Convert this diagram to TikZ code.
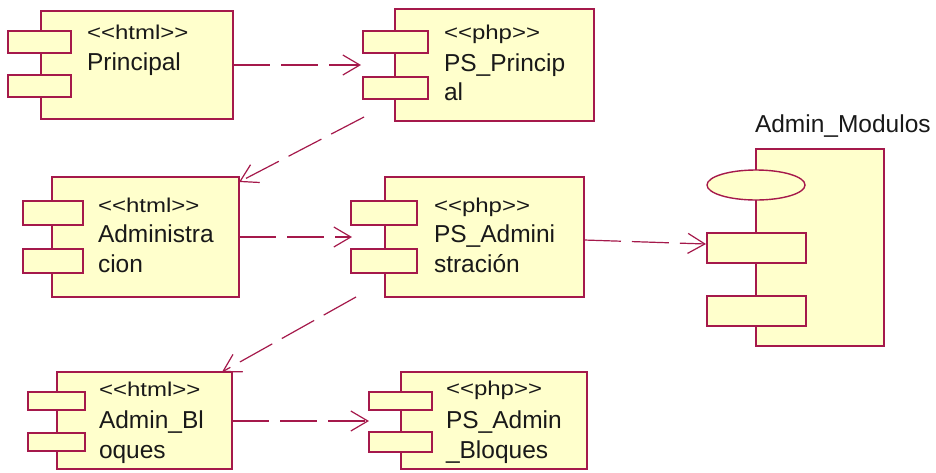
\documentclass[tikz,border=0pt]{standalone}
\usepackage{fontspec}
\setmainfont{Liberation Sans}
\newfontfamily\stereofont[FakeStretch=1.2]{Liberation Sans}
\usetikzlibrary{arrows.meta,shapes.geometric}
\definecolor{umlline}{RGB}{165,25,75}
\definecolor{umlfill}{RGB}{255,255,204}
\definecolor{umltext}{RGB}{25,25,25}
\tikzset{
 body/.style={draw=umlline, fill=umlfill, line width=1.4pt, rectangle, inner sep=0pt, outer sep=0pt},
 tabbox/.style={body},
 lobe/.style={draw=umlline, fill=umlfill, line width=1.4pt, ellipse, inner sep=0pt, outer sep=0pt},
 txt/.style={anchor=base west, inner sep=0pt, outer sep=0pt, font=\fontsize{24.5}{29}\selectfont, text=umltext},
 stxt/.style={anchor=base west, inner sep=0pt, outer sep=0pt, font=\stereofont\fontsize{20}{24}\selectfont, text=umltext},
 dep/.style={draw=umlline, line width=1.2pt, dash pattern=on 37pt off 11pt,
   -{Straight Barb[length=17pt,width=20pt,line width=1.2pt]}},
}
\begin{document}
\begin{tikzpicture}[x=1pt,y=-1pt]
\fill[white] (0,0) rectangle (936,472);
\useasboundingbox (0,0) rectangle (936,472);

% Principal
\node[body, minimum width=192pt, minimum height=108pt] (prin) at (137,65) {};
\node[tabbox, minimum width=63pt, minimum height=22pt] (prinA) at (39.5,42) {};
\node[tabbox, minimum width=63pt, minimum height=22pt] (prinB) at (39.5,86) {};
\node[stxt] (prinS) at (87,39) {<<html>>};
\node[txt] (prinN) at (87,70) {Principal};

% PS_Principal
\node[body, minimum width=199pt, minimum height=112pt] (psp) at (494.5,65) {};
\node[tabbox, minimum width=65pt, minimum height=22pt] (pspA) at (395.5,42) {};
\node[tabbox, minimum width=65pt, minimum height=22pt] (pspB) at (395.5,88) {};
\node[stxt] (pspS) at (444,39) {<<php>>};
\node[txt] (pspN) at (444,71) {PS\_Princip};
\node[txt] (pspM) at (444,100) {al};

% Administracion
\node[body, minimum width=187pt, minimum height=120pt] (adm) at (145.5,237) {};
\node[tabbox, minimum width=60pt, minimum height=24pt] (admA) at (53,213) {};
\node[tabbox, minimum width=60pt, minimum height=24pt] (admB) at (53,261) {};
\node[stxt] (admS) at (98,212) {<<html>>};
\node[txt] (admN) at (98,242) {Administra};
\node[txt] (admM) at (98,272) {cion};

% PS_Administracion
\node[body, minimum width=199pt, minimum height=120pt] (psa) at (484.5,237) {};
\node[tabbox, minimum width=66pt, minimum height=24pt] (psaA) at (384,213) {};
\node[tabbox, minimum width=66pt, minimum height=24pt] (psaB) at (384,261) {};
\node[stxt] (psaS) at (434,212) {<<php>>};
\node[txt] (psaN) at (434,242) {PS\_Admini};
\node[txt] (psaM) at (434,272) {stración};

% Admin_Bloques
\node[body, minimum width=175pt, minimum height=97pt] (abl) at (144.5,420.5) {};
\node[tabbox, minimum width=57pt, minimum height=18pt] (ablA) at (56.5,401) {};
\node[tabbox, minimum width=57pt, minimum height=18pt] (ablB) at (56.5,442) {};
\node[stxt] (ablS) at (99,396) {<<html>>};
\node[txt] (ablN) at (99,428) {Admin\_Bl};
\node[txt] (ablM) at (99,458) {oques};

% PS_Admin_Bloques
\node[body, minimum width=186pt, minimum height=97pt] (pab) at (494,420.5) {};
\node[tabbox, minimum width=63pt, minimum height=18pt] (pabA) at (400.5,401) {};
\node[tabbox, minimum width=63pt, minimum height=20pt] (pabB) at (400.5,442) {};
\node[stxt] (pabS) at (446,395) {<<php>>};
\node[txt] (pabN) at (446,428) {PS\_Admin};
\node[txt] (pabM) at (446,458) {\_Bloques};

% Admin_Modulos
\node[txt] (modL) at (755,132) {Admin\_Modulos};
\node[body, minimum width=128pt, minimum height=197pt] (mod) at (820,247.5) {};
\node[lobe, minimum width=98pt, minimum height=30pt] (modE) at (756,185) {};
\node[tabbox, minimum width=99pt, minimum height=30pt] (modA) at (756.5,248) {};
\node[tabbox, minimum width=99pt, minimum height=30pt] (modB) at (756.5,311) {};

% free ends of connectors
\coordinate (c1) at (361,65);
\coordinate (c2s) at (364,117);
\coordinate (c2e) at (239,182);
\coordinate (c3) at (352,237);
\coordinate (c4s) at (584,240);
\coordinate (c4) at (706,244);
\coordinate (c5s) at (356,297);
\coordinate (c5e) at (222,372);
\coordinate (c6s) at (232,421);
\coordinate (c6) at (369,421);

\draw[dep] (prin.east) -- (c1);
\draw[dep] (c2s) -- (c2e);
\draw[dep] (adm.east) -- (c3);
\draw[dep] (c4s) -- (c4);
\draw[dep] (c5s) -- (c5e);
\draw[dep] (c6s) -- (c6);
\end{tikzpicture}
\end{document}
